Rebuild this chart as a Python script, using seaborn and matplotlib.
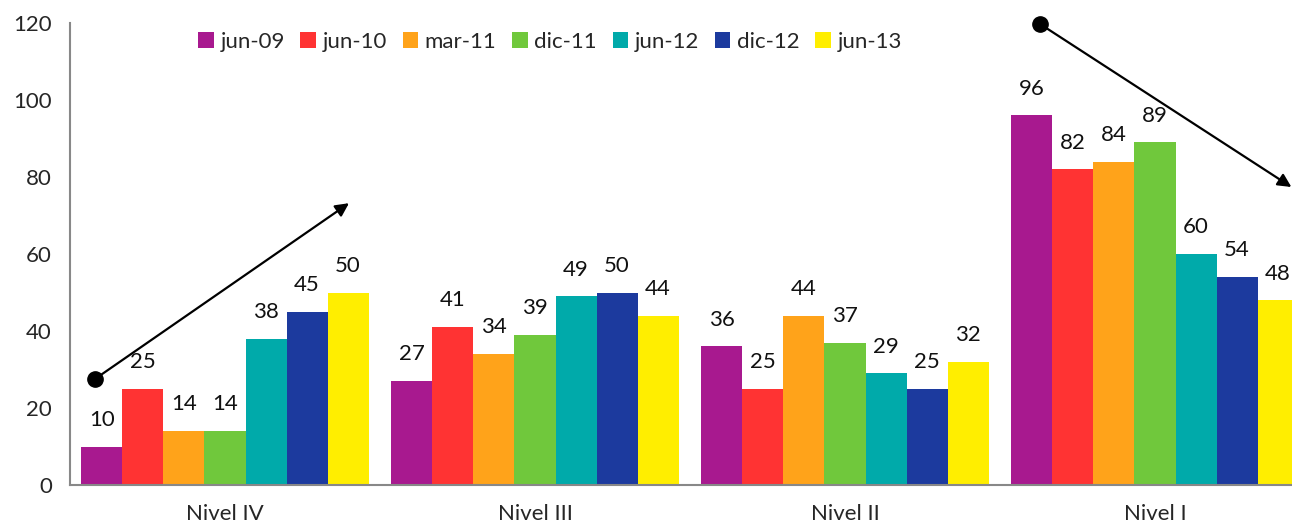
import numpy as np
import pandas as pd
import matplotlib
matplotlib.use("Agg")
import matplotlib.pyplot as plt
import seaborn as sns
from matplotlib.ticker import FixedLocator

niveles = ["Nivel IV", "Nivel III", "Nivel II", "Nivel I"]
periodos = ["jun-09", "jun-10", "mar-11", "dic-11", "jun-12", "dic-12", "jun-13"]
jun_09 = [10, 27, 36, 96]
jun_10 = [25, 41, 25, 82]
mar_11 = [14, 34, 44, 84]
dic_11 = [14, 39, 37, 89]
jun_12 = [38, 49, 29, 60]
dic_12 = [45, 50, 25, 54]
jun_13 = [50, 44, 32, 48]
colores = ["#A8198F", "#FF3333", "#FFA31A", "#70C83C", "#00AAAA", "#1C3A9E", "#FFEE00"]

series = [jun_09, jun_10, mar_11, dic_11, jun_12, dic_12, jun_13]
df = pd.DataFrame({
    "nivel": np.tile(niveles, len(periodos)),
    "periodo": np.repeat(periodos, len(niveles)),
    "valor": np.concatenate(series),
})

sns.set_style("white")
plt.rcParams["font.family"] = ["Lato", "DejaVu Sans"]

fig = plt.figure(figsize=(12.92, 5.24), dpi=100)
ax = fig.add_axes([70 / 1292, 39 / 524, 1240 / 1292, 462 / 524])

sns.barplot(data=df, x="nivel", y="valor", hue="periodo", order=niveles,
            hue_order=periodos, palette=colores, width=0.926, gap=0,
            saturation=1, linewidth=0, ax=ax)

for cont in ax.containers:
    ax.bar_label(cont, fmt="%d", padding=12, fontsize=16, color="#111111")

# flechas de tendencia
ax.annotate("", xy=(0.40, 73.2), xytext=(-0.42, 27.5),
            arrowprops=dict(arrowstyle="-|>", color="black", lw=1.6,
                            mutation_scale=20, shrinkA=0, shrinkB=0))
ax.plot([-0.42], [27.5], "o", color="black", ms=11, clip_on=False)
ax.annotate("", xy=(3.44, 77.4), xytext=(2.63, 119.7),
            arrowprops=dict(arrowstyle="-|>", color="black", lw=1.6,
                            mutation_scale=20, shrinkA=0, shrinkB=0),
            annotation_clip=False)
ax.plot([2.63], [119.7], "o", color="black", ms=11, clip_on=False)

ax.set_xlim(-0.5, 3.5)
ax.set_ylim(0, 120)
ax.set_yticks(range(0, 121, 20))
ax.set_xlabel("")
ax.set_ylabel("")
ax.xaxis.set_minor_locator(FixedLocator([0.5, 1.5, 2.5]))
ax.tick_params(axis="x", which="major", length=0, pad=14, labelsize=16)
ax.tick_params(axis="x", which="minor", length=7, width=1.5, color="#888888", direction="out")
ax.tick_params(axis="y", length=7, width=1.5, color="#888888", labelsize=16, pad=6)

for s in ["top", "right"]:
    ax.spines[s].set_visible(False)
for s in ["left", "bottom"]:
    ax.spines[s].set_color("#888888")
    ax.spines[s].set_linewidth(1.5)

ax.legend(loc="upper center", bbox_to_anchor=(480 / 1240, 1.01), ncol=7,
          frameon=False, fontsize=16, handlelength=0.7, handleheight=0.7,
          handletextpad=0.3, columnspacing=0.7, borderaxespad=0.2)

fig.savefig("out.png", dpi=100)
